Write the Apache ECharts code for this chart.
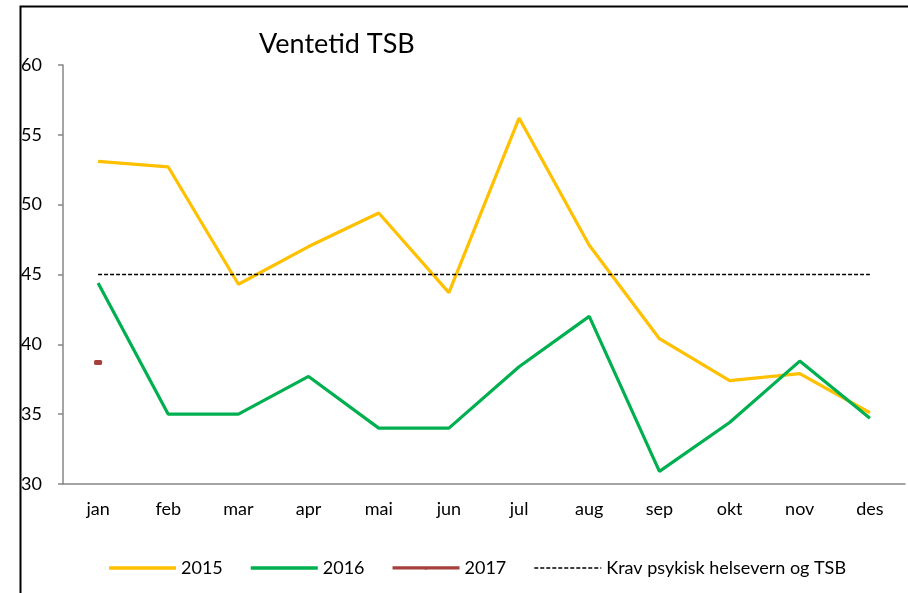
<!DOCTYPE html>
<html>
<head>
<meta charset="utf-8">
<script src="https://cdn.jsdelivr.net/npm/echarts@6/dist/echarts.min.js"></script>
<style>html,body{margin:0;padding:0;background:#fff}#c{width:908px;height:593px}</style>
</head>
<body>
<div id="c"></div>
<script>
const categories = ['jan','feb','mar','apr','mai','jun','jul','aug','sep','okt','nov','des'];
const v2015 = [53.1, 52.7, 44.3, 47.0, 49.4, 43.7, 56.2, 47.1, 40.4, 37.4, 37.9, 35.1];
const v2016 = [44.4, 35.0, 35.0, 37.7, 34.0, 34.0, 38.4, 42.0, 30.9, 34.4, 38.8, 34.7];
const v2017 = [38.7, null, null, null, null, null, null, null, null, null, null, null];
const krav = [45, 45, 45, 45, 45, 45, 45, 45, 45, 45, 45, 45];
const yTicks = [30, 35, 40, 45, 50, 55, 60];

const font = 'Lato, "Open Sans", sans-serif';
let dash = 'path://M0,0 M67,4';
for (let x = 0; x < 67; x += 6) {
  const w = Math.min(4, 67 - x);
  dash += ' M' + x + ',1.2 L' + (x + w) + ',1.2 L' + (x + w) + ',2.8 L' + x + ',2.8 Z';
}
const solid = 'path://M0,0.3 L67,0.3 L67,3.7 L0,3.7 Z';
const marker = 'path://M0,0.3 L67,0.3 L67,3.7 L35,3.7 L35,4 L32,4 L32,3.7 L0,3.7 Z';

const chart = echarts.init(document.getElementById('c'), null, {renderer: 'canvas'});
chart.setOption({
  animation: false,
  backgroundColor: '#fff',
  title: {
    text: 'Ventetid TSB', left: 254, top: 26,
    textStyle: {fontFamily: font, fontSize: 27, fontWeight: 'normal', color: '#000'}
  },
  graphic: [{
    type: 'rect', left: 18, top: 4, shape: {width: 1000, height: 700},
    style: {fill: 'none', stroke: '#000', lineWidth: 2}, silent: true
  }],
  legend: {
    left: 104, top: 554, itemWidth: 67, itemHeight: 4, itemGap: 28,
    textStyle: {fontFamily: font, fontSize: 18, color: '#000'},
    data: [
      {name: '2015', icon: solid},
      {name: '2016', icon: solid},
      {name: '2017', icon: marker},
      {name: 'Krav psykisk helsevern og TSB', icon: dash}
    ]
  },
  grid: {left: 63, right: 3, top: 65, bottom: 109, containLabel: false},
  xAxis: {
    type: 'category', data: categories, boundaryGap: true,
    axisLine: {lineStyle: {color: '#868686', width: 1.5}},
    axisTick: {alignWithLabel: true, length: 6, lineStyle: {color: '#868686', width: 1.5}},
    axisLabel: {fontFamily: font, fontSize: 18, color: '#000', margin: 16}
  },
  yAxis: {
    type: 'value', min: yTicks[0], max: yTicks[yTicks.length - 1], interval: 5,
    axisLine: {show: true, lineStyle: {color: '#868686', width: 1.5}},
    axisTick: {show: true, length: 5, lineStyle: {color: '#868686', width: 1.5}},
    splitLine: {show: false},
    axisLabel: {fontFamily: font, fontSize: 18, color: '#000', margin: 21}
  },
  series: [
    {name: '2015', type: 'line', data: v2015, symbol: 'none', lineStyle: {color: '#FFC000', width: 3.2}, itemStyle: {color: '#FFC000'}},
    {name: '2016', type: 'line', data: v2016, symbol: 'none', lineStyle: {color: '#00B050', width: 3.2}, itemStyle: {color: '#00B050'}},
    {name: '2017', type: 'line', data: v2017, symbol: 'roundRect', symbolSize: [8, 5], showSymbol: true,
      lineStyle: {color: '#A5403C', width: 3}, itemStyle: {color: '#A5403C'}},
    {name: 'Krav psykisk helsevern og TSB', type: 'line', data: krav, symbol: 'none',
      lineStyle: {color: '#000', width: 1.5, type: [4, 2]}, itemStyle: {color: '#000'}}
  ]
});
</script>
</body>
</html>
